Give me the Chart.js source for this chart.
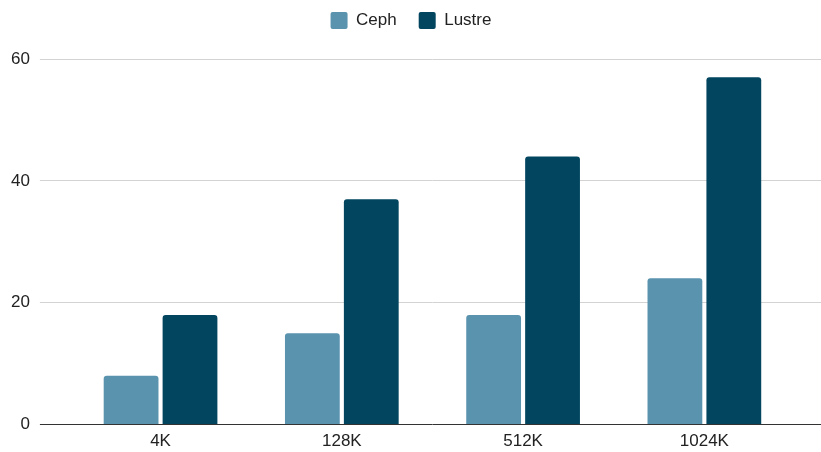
<!DOCTYPE html>
<html>
<head>
<meta charset="utf-8">
<script src="https://cdn.jsdelivr.net/npm/chart.js@4/dist/chart.umd.min.js"></script>
<style>
    html, body { margin: 0; padding: 0; background: #fff; }
    #wrap { width: 821px; height: 452px; }
</style>
</head>
<body>
<div id="wrap"><canvas id="chart"></canvas></div>
<script>
const categories = ['4K', '128K', '512K', '1024K'];
const cephValues = [8, 15, 18, 24];
const lustreValues = [18, 37, 44, 57];
const yTicks = [0, 20, 40, 60];

const font = { family: "'Liberation Sans', Arial", size: 17 };
const gridColor = (ctx) => ctx.tick && ctx.tick.value === 0 ? '#333333' : '#d3d3d3';

// give the legend some extra room below it
const legendSpace = {
    id: 'legendSpace',
    beforeInit(chart) {
        const fit = chart.legend.fit;
        chart.legend.fit = function () {
            fit.bind(chart.legend)();
            this.height += 20;
        };
    }
};

new Chart(document.getElementById('chart').getContext('2d'), {
    type: 'bar',
    data: {
        labels: categories,
        datasets: [
            { label: 'Ceph', data: cephValues, backgroundColor: '#5a93ae', borderRadius: 3, borderSkipped: 'bottom' },
            { label: 'Lustre', data: lustreValues, backgroundColor: '#02455f', borderRadius: 3, borderSkipped: 'bottom' }
        ]
    },
    options: {
        responsive: true,
        maintainAspectRatio: false,
        animation: false,
        categoryPercentage: 0.65,
        barPercentage: 0.93,
        layout: { padding: { left: 1, right: 0, top: -10, bottom: -7 } },
        plugins: {
            legend: {
                position: 'top',
                labels: {
                    font: font,
                    color: '#222',
                    boxWidth: 17,
                    boxHeight: 17,
                    padding: 22,
                    useBorderRadius: true,
                    borderRadius: 2
                }
            },
            tooltip: { enabled: false }
        },
        scales: {
            x: {
                grid: { display: false, drawTicks: false },
                border: { display: false },
                ticks: { font: font, color: '#222', padding: 7 }
            },
            y: {
                min: 0,
                max: 60,
                afterBuildTicks: (axis) => { axis.ticks = yTicks.map(v => ({ value: v })); },
                border: { display: false },
                grid: { color: gridColor, tickColor: gridColor, tickLength: 30 },
                ticks: { font: font, color: '#222', padding: 10 }
            },
            y2: {
                position: 'right',
                min: 0,
                max: 60,
                afterBuildTicks: (axis) => { axis.ticks = yTicks.map(v => ({ value: v })); },
                border: { display: false },
                grid: { color: gridColor, tickColor: gridColor, tickLength: 26, drawOnChartArea: false },
                ticks: { display: false }
            }
        }
    },
    plugins: [legendSpace]
});
</script>
</body>
</html>
